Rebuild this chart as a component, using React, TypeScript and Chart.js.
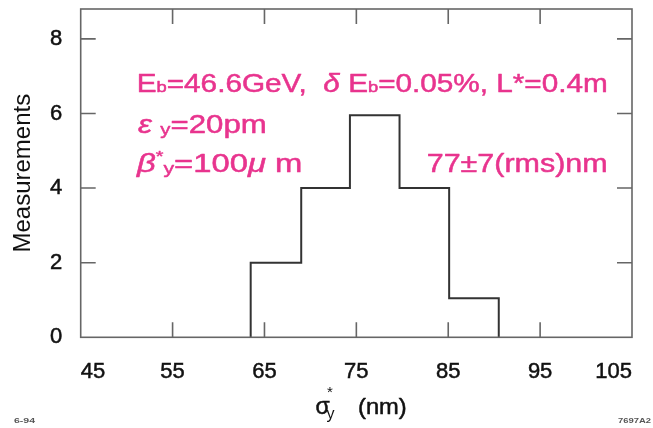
import React, { useEffect, useRef } from "react";
import { Chart, registerables } from "chart.js";

Chart.register(...registerables);

// ---- data ----
const binEdges = [63.5, 69.0, 74.3, 79.7, 85.1, 90.5];
const counts = [2, 4, 5.95, 4, 1.05];
const xTicks = [45, 55, 65, 75, 85, 95, 105];
const yTicks = [0, 2, 4, 6, 8];
const xMin = 45;
const xMax = 105;
const yMin = 0;
const yMax = 8.8;
const yTitle = "Measurements";

const PINK = "#e8348e";
const AXIS = "#666666";
const INK = "#111111";
const FAMILY = "'Liberation Sans', Arial, Helvetica, sans-serif";

type Seg = { t: string; s?: number; dy?: number; italic?: boolean; bold?: boolean };

function drawRich(
  ctx: CanvasRenderingContext2D,
  segs: Seg[],
  x: number,
  y: number,
  size: number,
  color: string,
  targetWidth?: number,
  align: "left" | "right" = "left",
  stroke = 0
) {
  const fontOf = (g: Seg) =>
    `${g.italic ? "italic " : ""}${g.bold ? "bold " : ""}${size * (g.s ?? 1)}px ${FAMILY}`;
  let total = 0;
  const widths: number[] = [];
  for (const g of segs) {
    ctx.font = fontOf(g);
    const w = ctx.measureText(g.t).width;
    widths.push(w);
    total += w;
  }
  const sc = targetWidth ? targetWidth / total : 1;
  const x0 = align === "right" ? x - total * sc : x;
  ctx.save();
  ctx.translate(x0, y);
  ctx.scale(sc, 1);
  ctx.fillStyle = color;
  ctx.strokeStyle = color;
  ctx.lineWidth = stroke;
  ctx.lineJoin = "round";
  ctx.textBaseline = "alphabetic";
  ctx.textAlign = "left";
  let cx = 0;
  segs.forEach((g, i) => {
    ctx.font = fontOf(g);
    ctx.fillText(g.t, cx, g.dy ?? 0);
    if (stroke > 0) ctx.strokeText(g.t, cx, g.dy ?? 0);
    cx += widths[i];
  });
  ctx.restore();
}

const decorPlugin = {
  id: "decor",
  afterDraw(chart: any) {
    const ctx: CanvasRenderingContext2D = chart.ctx;
    const { left, right, top, bottom } = chart.chartArea;
    const xs = chart.scales.x;
    const ys = chart.scales.y;
    ctx.save();
    // frame
    ctx.strokeStyle = AXIS;
    ctx.lineWidth = 1.6;
    ctx.strokeRect(left, top, right - left, bottom - top);
    // inward ticks
    const tl = 15;
    ctx.beginPath();
    xTicks.slice(1, -1).forEach((v) => {
      const px = xs.getPixelForValue(v);
      ctx.moveTo(px, bottom);
      ctx.lineTo(px, bottom - tl);
      ctx.moveTo(px, top);
      ctx.lineTo(px, top + tl);
    });
    yTicks.slice(1).forEach((v) => {
      const py = ys.getPixelForValue(v);
      ctx.moveTo(left, py);
      ctx.lineTo(left + tl, py);
      ctx.moveTo(right, py);
      ctx.lineTo(right - tl, py);
    });
    ctx.stroke();
    ctx.restore();

    // annotations
    const fs = 25;
    const sw = 0.5;
    drawRich(
      ctx,
      [
        { t: "E" },
        { t: "b", s: 0.62 },
        { t: "=46.6GeV,  " },
        { t: "δ ", italic: true },
        { t: "E" },
        { t: "b", s: 0.62 },
        { t: "=0.05%, L*=0.4m" },
      ],
      136.7,
      92,
      fs,
      PINK,
      471,
      "left",
      sw
    );
    drawRich(
      ctx,
      [{ t: "ε", italic: true }, { t: " " }, { t: "y", s: 0.65, dy: 2 }, { t: "=20pm" }],
      138,
      133,
      fs,
      PINK,
      128.7,
      "left",
      sw
    );
    drawRich(
      ctx,
      [
        { t: "β", italic: true },
        { t: "*", s: 0.6, dy: -11 },
        { t: "y", s: 0.65, dy: 2 },
        { t: "=100" },
        { t: "μ", italic: true },
        { t: " m" },
      ],
      137,
      172,
      fs,
      PINK,
      165.3,
      "left",
      sw
    );
    drawRich(ctx, [{ t: "77±7(rms)nm" }], 607.7, 172, fs, PINK, 181, "right", sw);

    // x axis title: sigma*_y (nm)
    ctx.save();
    ctx.fillStyle = INK;
    ctx.strokeStyle = INK;
    ctx.lineWidth = 0.5;
    ctx.textBaseline = "alphabetic";
    ctx.textAlign = "left";
    ctx.font = `23px ${FAMILY}`;
    ctx.fillText("σ", 315.5, 414);
    ctx.strokeText("σ", 315.5, 414);
    ctx.font = `16px ${FAMILY}`;
    ctx.fillText("y", 326.5, 419);
    ctx.font = `15px ${FAMILY}`;
    ctx.fillText("*", 327, 397);
    ctx.restore();
    drawRich(ctx, [{ t: "(nm)" }], 358, 414, 22, INK, 48.7, "left", 0.5);

    // tiny corner labels
    drawRich(ctx, [{ t: "6-94", bold: true }], 14, 423, 8, "#555", 21);
    drawRich(ctx, [{ t: "7697A2", bold: true }], 618, 423, 8, "#555", 33);
  },
};

export default function App() {
  const ref = useRef<HTMLCanvasElement | null>(null);

  useEffect(() => {
    if (!ref.current) return;
    const pts: { x: number; y: number }[] = [{ x: binEdges[0], y: 0 }];
    counts.forEach((c, i) => pts.push({ x: binEdges[i], y: c }));
    pts.push({ x: binEdges[binEdges.length - 1], y: counts[counts.length - 1] });
    pts.push({ x: binEdges[binEdges.length - 1], y: 0 });

    const chart = new Chart(ref.current, {
      type: "line",
      data: {
        datasets: [
          {
            data: pts,
            stepped: "before",
            borderColor: "#333333",
            borderWidth: 2,
            pointRadius: 0,
            fill: false,
          },
        ],
      },
      options: {
        responsive: false,
        animation: false,
        events: [],
        layout: { padding: { left: 0, right: 21, top: 9, bottom: 0 } },
        plugins: {
          legend: { display: false },
          tooltip: { enabled: false },
          title: { display: false },
        },
        scales: {
          x: {
            type: "linear",
            min: xMin,
            max: xMax,
            afterBuildTicks: (s: any) => {
              s.ticks = xTicks.map((v) => ({ value: v }));
            },
            afterFit: (s: any) => {
              s.height = 428 - 337.3;
              s.paddingLeft = 0;
              s.paddingRight = 0;
            },
            grid: { display: false, drawTicks: false },
            border: { display: false },
            ticks: {
              align: "inner",
              padding: 21,
              color: INK,
              textStrokeColor: INK,
              textStrokeWidth: 0.5,
              maxRotation: 0,
              autoSkip: false,
              font: { family: FAMILY, size: 22 },
              callback: (v: any) => String(v),
            },
          },
          y: {
            type: "linear",
            min: yMin,
            max: yMax,
            afterBuildTicks: (s: any) => {
              s.ticks = yTicks.map((v) => ({ value: v }));
            },
            afterFit: (s: any) => {
              s.width = 80.7;
              s.paddingTop = 0;
              s.paddingBottom = 0;
            },
            grid: { display: false, drawTicks: false },
            border: { display: false },
            title: {
              display: true,
              text: yTitle,
              color: INK,
              font: { family: FAMILY, size: 24 },
              padding: { top: 9, bottom: 0 },
            },
            ticks: {
              padding: 18.5,
              color: INK,
              textStrokeColor: INK,
              textStrokeWidth: 0.5,
              autoSkip: false,
              font: { family: FAMILY, size: 22 },
              callback: (v: any) => String(v),
            },
          },
        },
      },
      plugins: [decorPlugin],
    });
    return () => chart.destroy();
  }, []);

  return (
    <div style={{ position: "absolute", left: 0, top: 0, width: 653, height: 428, background: "#fff" }}>
      <canvas ref={ref} width={653} height={428} style={{ display: "block" }} />
    </div>
  );
}
